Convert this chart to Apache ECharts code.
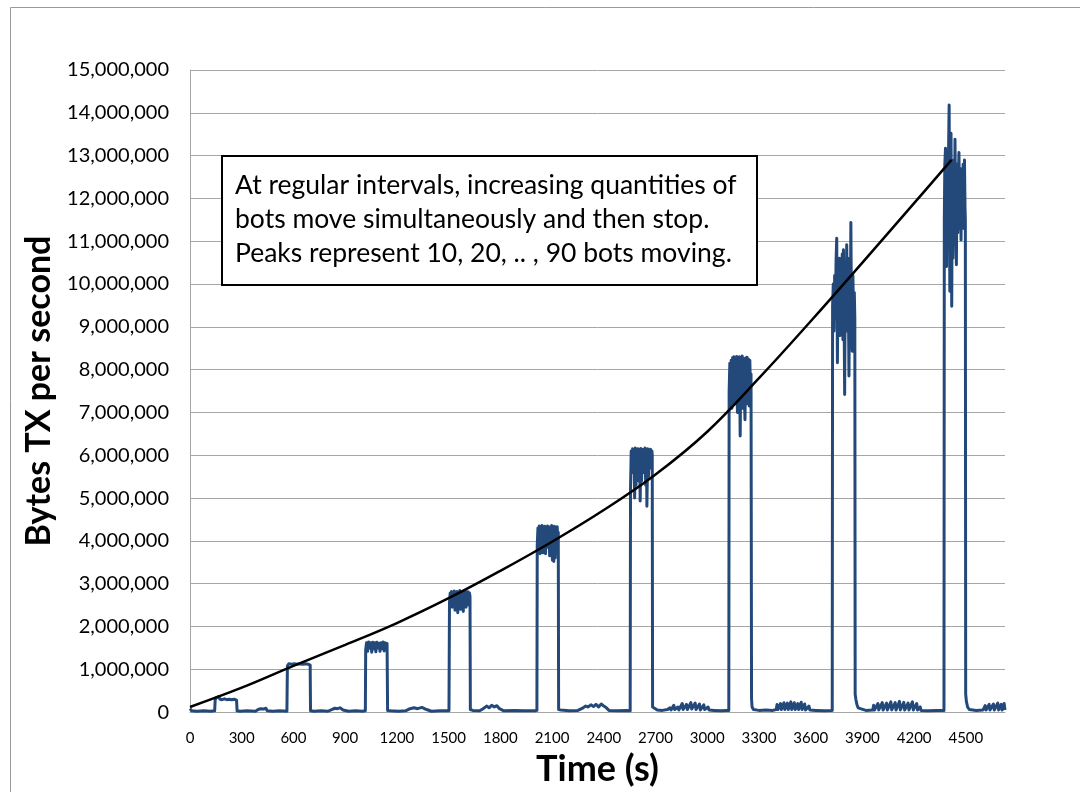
<!DOCTYPE html>
<html>
<head>
<meta charset="utf-8">
<script src="https://cdn.jsdelivr.net/npm/echarts@6/dist/echarts.min.js"></script>
<style>
  html, body { margin: 0; padding: 0; background: #fff; }
  #chart { width: 1080px; height: 792px; }
</style>
</head>
<body>
<div id="chart"></div>
<script>
// values in millions of bytes per second, [time (s), value]
var gap0 = [[0,0.08],[10,0.03],[40,0.02],[80,0.03],[120,0.02],[143,0.03]];
var peak1 = [[146,0.28],[150,0.33],[158,0.30],[166,0.36],[174,0.30],[186,0.29],[200,0.31],[214,0.29],[228,0.30],[242,0.29],[256,0.30],[270,0.28],[273,0.03]];
var gap1 = [[290,0.02],[330,0.03],[380,0.02],[395,0.06],[410,0.08],[425,0.07],[440,0.09],[448,0.03],[480,0.02],[520,0.03],[562,0.02]];
var peak2 = [[565,1.08],[573,1.13],[581,1.09],[589,1.12],[597,1.08],[605,1.13],[613,1.10],[621,1.12],[629,1.08],[637,1.13],[645,1.09],[653,1.12],[661,1.08],[669,1.13],[677,1.10],[685,1.12],[693,1.09],[697,1.10],[699,0.03]];
var gap2 = [[720,0.02],[760,0.03],[800,0.02],[822,0.06],[840,0.09],[855,0.08],[870,0.10],[888,0.05],[920,0.02],[960,0.03],[1000,0.02],[1017,0.03]];
var peak3 = [[1019,1.45],[1024,1.62],[1030,1.42],[1036,1.64],[1042,1.50],[1048,1.62],[1054,1.40],[1060,1.63],[1066,1.48],[1072,1.62],[1078,1.41],[1084,1.63],[1090,1.50],[1096,1.61],[1102,1.42],[1108,1.62],[1114,1.48],[1120,1.64],[1126,1.43],[1132,1.62],[1138,1.46],[1143,1.60],[1146,0.04]];
var gap3 = [[1165,0.03],[1210,0.02],[1250,0.03],[1276,0.08],[1300,0.10],[1320,0.08],[1345,0.11],[1372,0.06],[1400,0.02],[1450,0.03],[1502,0.03]];
var peak4 = [[1505,2.55],[1509,2.78],[1513,2.60],[1517,2.82],[1521,2.45],[1525,2.80],[1529,2.62],[1533,2.83],[1537,2.38],[1541,2.79],[1545,2.55],[1549,2.82],[1553,2.32],[1557,2.80],[1561,2.50],[1565,2.84],[1569,2.40],[1573,2.78],[1577,2.60],[1581,2.82],[1585,2.35],[1589,2.80],[1593,2.58],[1597,2.83],[1601,2.45],[1605,2.79],[1609,2.62],[1613,2.81],[1617,2.50],[1621,2.78],[1624,2.70],[1626,0.06]];
var gap4 = [[1640,0.04],[1680,0.03],[1700,0.08],[1720,0.14],[1735,0.10],[1750,0.16],[1765,0.12],[1780,0.15],[1795,0.08],[1820,0.03],[1880,0.04],[1940,0.03],[2000,0.03],[2012,0.04]];
var peak5 = [[2014,3.90],[2018,4.30],[2022,4.05],[2026,4.35],[2030,3.70],[2034,4.33],[2038,4.10],[2042,4.36],[2046,3.72],[2050,4.30],[2054,4.00],[2058,4.34],[2062,3.70],[2066,4.32],[2070,4.05],[2074,4.35],[2078,3.85],[2082,4.30],[2086,3.65],[2090,4.33],[2094,4.00],[2098,4.36],[2102,3.55],[2106,4.31],[2110,3.52],[2114,4.34],[2118,3.60],[2122,4.30],[2126,4.05],[2130,4.33],[2134,3.80],[2136,4.20],[2138,0.06]];
var gap5 = [[2150,0.05],[2200,0.03],[2250,0.04],[2280,0.10],[2295,0.14],[2310,0.12],[2325,0.17],[2340,0.13],[2355,0.18],[2370,0.12],[2385,0.19],[2400,0.14],[2415,0.10],[2430,0.04],[2480,0.03],[2530,0.04],[2553,0.03]];
var peak6 = [[2555,5.2],[2559,6.10],[2563,5.80],[2567,6.15],[2571,5.60],[2575,6.12],[2579,5.00],[2583,6.17],[2587,5.30],[2591,6.10],[2595,5.70],[2599,6.15],[2603,5.40],[2607,6.12],[2611,4.93],[2615,6.16],[2619,5.40],[2623,6.10],[2627,5.60],[2631,6.14],[2635,5.75],[2639,6.17],[2643,5.30],[2647,6.12],[2650,4.81],[2655,6.15],[2659,5.50],[2663,6.10],[2667,5.95],[2671,6.14],[2675,5.70],[2679,6.10],[2681,6.0],[2683,0.12]];
var gap6 = [[2686,0.15],[2692,0.08],[2710,0.05],[2740,0.04],[2770,0.06],[2784,0.10],[2790,0.05],[2806,0.16],[2811,0.06],[2830,0.12],[2835,0.05],[2855,0.20],[2860,0.06],[2880,0.18],[2885,0.06],[2905,0.22],[2910,0.07],[2930,0.21],[2935,0.06],[2955,0.19],[2960,0.05],[2980,0.17],[2985,0.06],[3005,0.12],[3010,0.05],[3040,0.04],[3080,0.03],[3110,0.04],[3125,0.04]];
var peak7 = [[3127,7.5],[3131,8.15],[3135,7.30],[3139,8.22],[3143,7.10],[3147,8.28],[3151,7.40],[3155,8.30],[3159,7.20],[3163,8.25],[3167,7.50],[3171,8.31],[3175,7.00],[3179,8.27],[3183,7.40],[3187,8.30],[3191,6.45],[3195,8.25],[3199,7.30],[3203,8.32],[3207,7.10],[3211,8.26],[3215,7.40],[3219,6.83],[3223,8.27],[3227,7.20],[3231,8.29],[3235,7.30],[3239,8.25],[3243,7.15],[3247,8.22],[3251,7.40],[3254,7.90],[3257,0.30]];
var gap7 = [[3260,0.12],[3268,0.06],[3300,0.04],[3340,0.05],[3380,0.04],[3400,0.06],[3405,0.18],[3410,0.06],[3425,0.20],[3430,0.06],[3445,0.22],[3450,0.06],[3465,0.21],[3470,0.06],[3485,0.24],[3490,0.06],[3505,0.22],[3510,0.06],[3525,0.20],[3530,0.06],[3545,0.23],[3550,0.06],[3565,0.19],[3570,0.05],[3590,0.14],[3595,0.05],[3630,0.04],[3680,0.03],[3725,0.04]];
var peak8 = [[3727,9.5],[3731,10.0],[3735,8.9],[3739,10.2],[3743,9.2],[3747,10.5],[3751,11.07],[3755,8.16],[3759,10.3],[3763,9.0],[3767,10.6],[3771,8.8],[3775,10.4],[3779,9.3],[3783,10.7],[3787,8.7],[3790,10.8],[3794,9.1],[3797,7.42],[3801,10.5],[3805,9.0],[3809,10.92],[3813,8.9],[3817,10.6],[3822,7.85],[3826,10.4],[3830,9.2],[3833,11.44],[3837,9.0],[3841,8.43],[3845,10.2],[3849,9.0],[3853,9.8],[3856,9.2],[3858,0.42],[3862,0.30],[3868,0.18],[3875,0.10],[3885,0.06]];
var gap8 = [[3920,0.04],[3960,0.05],[3965,0.16],[3970,0.05],[3990,0.20],[3995,0.05],[4015,0.22],[4020,0.05],[4040,0.21],[4045,0.05],[4065,0.24],[4070,0.05],[4090,0.22],[4095,0.05],[4115,0.25],[4120,0.05],[4140,0.23],[4145,0.05],[4165,0.21],[4170,0.05],[4190,0.24],[4195,0.05],[4215,0.20],[4220,0.05],[4235,0.12],[4240,0.04],[4280,0.03],[4330,0.04],[4373,0.04]];
var peak9 = [[4375,11.5],[4378,12.8],[4382,13.17],[4385,11.2],[4388,10.41],[4391,12.6],[4395,11.0],[4399,12.9],[4403,14.18],[4407,9.83],[4410,12.7],[4414,13.52],[4418,9.48],[4421,12.5],[4425,10.6],[4429,12.9],[4433,11.1],[4437,13.38],[4441,11.4],[4445,10.45],[4449,12.8],[4453,11.2],[4457,12.6],[4460,13.07],[4464,11.3],[4468,12.7],[4472,11.03],[4476,12.5],[4480,11.6],[4484,12.8],[4488,11.3],[4492,12.9],[4495,11.8],[4497,11.5],[4499,0.42],[4503,0.25],[4510,0.12],[4520,0.06]];
var gap9 = [[4560,0.04],[4600,0.05],[4612,0.15],[4617,0.05],[4635,0.18],[4640,0.05],[4660,0.19],[4665,0.05],[4685,0.21],[4690,0.05],[4705,0.18],[4710,0.05],[4722,0.20],[4727,0.05]];

// trend line
var trendLine = [[0,0.12],[300,0.57],[600,1.08],[900,1.57],[1200,2.08],[1500,2.66],[1800,3.30],[2100,3.98],[2400,4.72],[2700,5.55],[3000,6.55],[3300,7.80],[3600,9.13],[3900,10.50],[4200,11.89],[4417,12.90]];

var xMax = 4727;
var noteLines = [
    'At regular intervals, increasing quantities of',
    'bots move simultaneously and then stop.',
    'Peaks represent 10, 20, .. , 90 bots moving.'
];

var txData = [].concat(gap0, peak1, gap1, peak2, gap2, peak3, gap3, peak4, gap4,
    peak5, gap5, peak6, gap6, peak7, gap7, peak8, gap8, peak9, gap9);

function toBytes(arr) {
    return arr.map(function (p) { return [p[0], Math.round(p[1] * 1e6)]; });
}

var chart = echarts.init(document.getElementById('chart'));
var font = 'Lato, "Noto Sans", sans-serif';

var option = {
    animation: false,
    backgroundColor: '#ffffff',
    grid: { left: 190, right: 75, top: 70, bottom: 79 },
    xAxis: {
        type: 'value',
        min: 0,
        max: xMax,
        interval: 300,
        name: 'Time (s)',
        nameLocation: 'middle',
        nameGap: 38,
        nameTextStyle: { fontFamily: font, fontSize: 36, fontWeight: 'bold', color: '#000' },
        axisLine: { show: true, onZero: false, lineStyle: { color: '#a6a6a6', width: 1 } },
        axisTick: { show: false },
        splitLine: { show: false },
        axisLabel: {
            showMaxLabel: false,
            margin: 19,
            fontFamily: font,
            fontSize: 15,
            color: '#000',
            formatter: function (v) { return String(v); }
        }
    },
    yAxis: {
        type: 'value',
        min: 0,
        max: 15000000,
        interval: 1000000,
        name: 'Bytes TX per second',
        nameLocation: 'middle',
        nameGap: 134,
        nameTextStyle: { fontFamily: font, fontSize: 34, fontWeight: 'bold', color: '#000' },
        axisLine: { show: true, lineStyle: { color: '#a6a6a6', width: 1 } },
        axisTick: { show: false },
        splitLine: { show: true, lineStyle: { color: '#a6a6a6', width: 1 } },
        axisLabel: {
            margin: 21,
            fontFamily: font,
            fontSize: 20,
            color: '#000',
            formatter: function (v) { return v.toLocaleString('en-US'); }
        }
    },
    graphic: [
        {
            type: 'rect',
            shape: { x: 10.5, y: 7.5, width: 1100, height: 820 },
            style: { fill: null, stroke: '#9a9a9a', lineWidth: 1 },
            silent: true,
            z: -10
        },
        {
            type: 'rect',
            shape: { x: 222, y: 156, width: 535, height: 129 },
            style: { fill: '#ffffff', stroke: '#000000', lineWidth: 2 },
            z: 100
        },
        {
            type: 'text',
            x: 235,
            y: 168,
            style: {
                text: noteLines.join('\n'),
                fontFamily: font,
                fontSize: 26.5,
                lineHeight: 34,
                fill: '#000'
            },
            z: 101
        }
    ],
    series: [
        {
            name: 'Bytes TX',
            type: 'line',
            data: toBytes(txData),
            showSymbol: false,
            symbol: 'none',
            lineStyle: { color: '#23497b', width: 3, join: 'round' },
            z: 2
        },
        {
            name: 'Trend',
            type: 'line',
            data: toBytes(trendLine),
            smooth: 0.4,
            showSymbol: false,
            symbol: 'none',
            lineStyle: { color: '#000000', width: 2.5 },
            z: 3
        }
    ]
};

chart.setOption(option);
</script>
</body>
</html>
